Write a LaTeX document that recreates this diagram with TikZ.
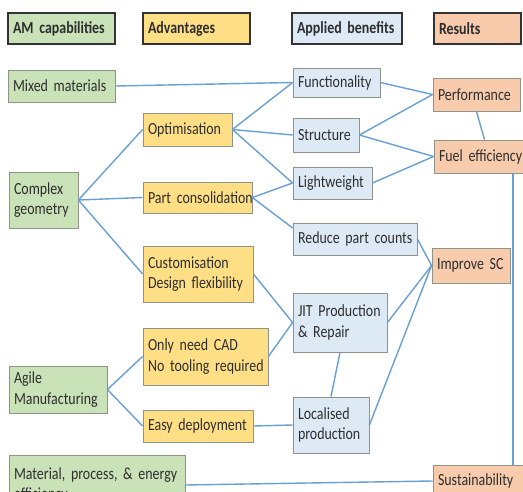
\documentclass[tikz,border=0pt]{standalone}
\usepackage{fontspec}
\setmainfont{Carlito}[FakeStretch=0.82,WordSpace=0.8]
\hyphenpenalty=10000
\exhyphenpenalty=10000
\hbadness=10000
\hfuzz=50pt
\definecolor{gfill}{HTML}{C9E2B8}
\definecolor{yfill}{HTML}{FFDF85}
\definecolor{bfill}{HTML}{DDEAF6}
\definecolor{ofill}{HTML}{F8CBAD}
\definecolor{lnblue}{HTML}{6A9FD3}
\definecolor{bord}{HTML}{8E9488}
\definecolor{txt}{HTML}{2E2E2E}
\newcommand\mybox[7]{%
  \pgfmathsetmacro\mytw{#4-#2-10}%
  \node[boxbase,#6,minimum width={#4-#2},minimum height={#5-#3},text width=\mytw pt]
    (#1) at ({(#2+#4)/2},{(#3+#5)/2}) {#7};}
\begin{document}
\begin{tikzpicture}[x=1pt,y=-1pt,
  boxbase/.style={draw=bord,line width=0.8pt,inner xsep=5pt,inner ysep=1pt,align=left,
     text=txt,font=\fontsize{17}{20.5}\selectfont},
  gbox/.style={fill=gfill},
  ybox/.style={fill=yfill},
  bbox/.style={fill=bfill},
  obox/.style={fill=ofill},
  hdr/.style={draw=black!80,line width=1.6pt,font=\fontsize{17}{20.5}\selectfont\bfseries},
  conn/.style={draw=lnblue,line width=1.4pt}]
\useasboundingbox (0,0) rectangle (523,492);
\clip (0,0) rectangle (523,492);
\fill[white] (0,0) rectangle (523,492);
% headers
\mybox{hAM}{8}{13}{115}{44}{gbox,hdr}{AM~capabilities}
\mybox{hAdv}{143}{13}{250}{44}{ybox,hdr}{Advantages}
\mybox{hApp}{292}{13}{402}{44}{bbox,hdr}{Applied~benefits}
\mybox{hRes}{434}{13}{521}{44}{obox,hdr}{Results}
% column 1
\mybox{mixed}{8}{70}{115}{102}{gbox}{Mixed~materials}
\mybox{complex}{9}{172}{78}{228}{gbox}{Complex\\geometry}
\mybox{agile}{9}{366}{107}{413}{gbox}{Agile\\Manufacturing}
\mybox{mat}{9}{455}{185}{515}{gbox}{Material,~process,~\&~energy\\efficiency}
% column 2
\mybox{optim}{143}{113}{232}{146}{ybox}{Optimisation}
\mybox{partc}{143}{182}{252}{213}{ybox}{\mbox{Part~consolidation}}
\mybox{custom}{143}{246}{253}{302}{ybox}{Customisation\\Design~flexibility}
\mybox{cad}{143}{328}{268}{385}{ybox}{Only~need~CAD\\\mbox{No~tooling~required}}
\mybox{easy}{143}{410}{253}{442}{ybox}{Easy~deployment}
% column 3
\mybox{func}{293}{68}{380}{97}{bbox}{Functionality}
\mybox{struct}{293}{118}{359}{152}{bbox}{Structure}
\mybox{light}{293}{167}{372}{199}{bbox}{Lightweight}
\mybox{rpc}{293}{223}{417}{255}{bbox}{\mbox{Reduce~part~counts}}
\mybox{jit}{293}{293}{387}{352}{bbox}{JIT~Production\\\&~Repair}
\mybox{local}{293}{397}{369}{453}{bbox}{Localised\\production}
% column 4
\mybox{perf}{433}{78}{520}{111}{obox}{Performance}
\mybox{fuel}{434}{140}{535}{173}{obox}{Fuel~efficiency}
\mybox{isc}{432}{248}{510}{283}{obox}{Improve~SC}
\mybox{sust}{433}{465}{535}{497}{obox}{Sustainability}
\coordinate (vx) at (513,0);
% connectors
\path[conn] (mixed.east) -- (func.west);
\path[conn] (optim.east) -- (func.west);
\path[conn] (optim.east) -- (struct.west);
\path[conn] (optim.east) -- (light.west);
\path[conn] (complex.east) -- (optim.west);
\path[conn] (complex.east) -- (partc.west);
\path[conn] (complex.east) -- (custom.west);
\path[conn] (partc.east) -- (light.west);
\path[conn] (partc.east) -- (rpc.170);
\path[conn] (func.east) -- (perf.west);
\path[conn] (struct.east) -- (perf.west);
\path[conn] (struct.east) -- (fuel.west);
\path[conn] (light.east) -- (fuel.west);
\path[conn] (perf.south) -- (fuel.north);
\path[conn] (fuel.south -| vx) -- (sust.north -| vx);
\path[conn] (rpc.east) -- (isc.west);
\path[conn] (custom.east) -- (jit.west);
\path[conn] (cad.east) -- (jit.west);
\path[conn] (jit.east) -- (isc.west);
\path[conn] (jit.south) -- (local.north);
\path[conn] (local.east) -- (isc.west);
\path[conn] (agile.east) -- (cad.west);
\path[conn] (agile.east) -- (easy.west);
\path[conn] (easy.east) -- (local.west);
\path[conn] (mat.east) -- (sust.west);
\end{tikzpicture}
\end{document}
